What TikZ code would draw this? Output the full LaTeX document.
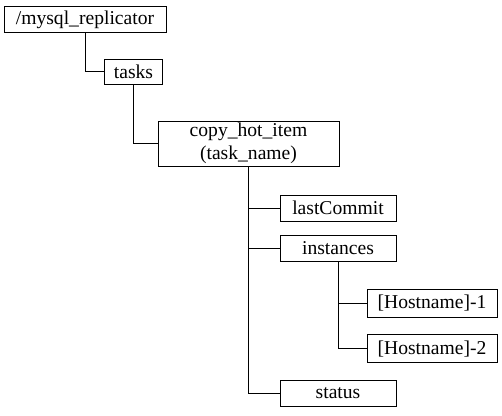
\documentclass[tikz,border=0pt]{standalone}
\usepackage{fontspec}
\setmainfont{Liberation Serif}
\usetikzlibrary{positioning}

\begin{document}
\begin{tikzpicture}[x=0.75pt, y=-0.75pt, line width=0.75pt,
    box/.style={draw, inner sep=1pt, minimum height=19.5pt, font=\fontsize{14.7}{17}\selectfont, align=center},
    leaf/.style={box, minimum width=87pt}]
            \useasboundingbox (0,0) rectangle (502,415);
            \node[box, minimum width=121.5pt] (root) at (85,19.5) {/mysql\_replicator};
            \node[box, minimum width=44pt, minimum height=18.75pt] (tasks) at (133.5,71.5) {tasks};
            \node[box, minimum width=135.75pt, minimum height=33.75pt] (copy) at (248.5,143.5) {copy\_hot\_item\\(task\_name)};
            \node[leaf] (last) at (338,208) {lastCommit};
            \node[leaf] (inst) at (338,248) {instances};
            \node[box, minimum width=97.5pt, minimum height=21pt] (hosta) at (432,303.5) {[Hostname]-1};
            \node[box, minimum width=97.5pt, minimum height=21pt] (hostb) at (432,348.5) {[Hostname]-2};
            \node[leaf] (status) at (338,393) {status};
            \foreach \a/\b in {root/tasks, tasks/copy, copy/last, copy/inst, inst/hosta, inst/hostb, copy/status} {
                \draw (\a.south) |- (\b.west);
            };
        \end{tikzpicture}
\end{document}
